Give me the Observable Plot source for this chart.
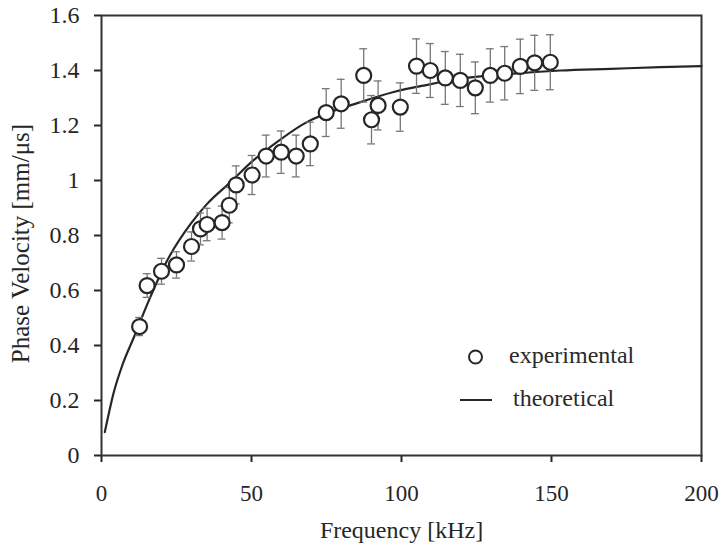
<!DOCTYPE html>
<html>
<head>
<meta charset="utf-8">
<script src="https://cdn.jsdelivr.net/npm/d3@7"></script>
<script src="https://cdn.jsdelivr.net/npm/@observablehq/plot@0.6"></script>
<style>
  html, body { margin: 0; padding: 0; background: #fff; }
  #wrap { position: relative; width: 721px; height: 554px; font-family: 'Liberation Serif', serif; }
  #legend { position: absolute; left: 0; top: 0; font-family: 'Liberation Serif', serif; font-size: 24px; color: #2a2a2a; }
  .lg { position: absolute; white-space: nowrap; line-height: 1; }
</style>
</head>
<body>
<div id="wrap"></div>
<script>
// Experimental points (frequency in kHz, phase velocity in mm/µs, error half-width)
const freq = [12.7, 15.2, 20, 25, 30, 33, 35.2, 40.2, 42.6, 44.9, 50.2, 54.9, 59.9, 64.9, 69.6, 74.9, 79.9, 87.4, 90, 92.2, 99.6, 105, 109.6, 114.6, 119.6, 124.6, 129.6, 134.4, 139.6, 144.4, 149.6];
const velocity = [0.469, 0.618, 0.670, 0.693, 0.760, 0.824, 0.840, 0.847, 0.910, 0.984, 1.020, 1.089, 1.103, 1.089, 1.133, 1.247, 1.279, 1.382, 1.221, 1.273, 1.267, 1.416, 1.400, 1.373, 1.364, 1.337, 1.382, 1.390, 1.415, 1.428, 1.430];
const errorBar = [0.033, 0.043, 0.047, 0.048, 0.053, 0.058, 0.059, 0.060, 0.064, 0.069, 0.071, 0.076, 0.077, 0.076, 0.079, 0.087, 0.089, 0.097, 0.088, 0.089, 0.088, 0.099, 0.098, 0.096, 0.095, 0.094, 0.097, 0.097, 0.099, 0.100, 0.100];

// Theoretical curve
const theoryFreq = [1.1, 4.1, 7, 10.8, 15.8, 21.9, 29.7, 35.2, 43, 50.8, 56.3, 67.4, 86.3, 97.4, 108.6, 119.7, 136.3, 153, 169.7, 186.3, 200];
const theoryVel = [0.085, 0.23, 0.33, 0.43, 0.564, 0.709, 0.842, 0.915, 0.994, 1.075, 1.122, 1.206, 1.285, 1.322, 1.348, 1.37, 1.388, 1.4, 1.406, 1.412, 1.416];

// Axis ticks and labels
const xTicks = [0, 50, 100, 150, 200];
const yTicks = [0, 0.2, 0.4, 0.6, 0.8, 1, 1.2, 1.4, 1.6];
const xLabel = "Frequency [kHz]";
const yLabel = "Phase Velocity [mm/μs]";
const legendLabels = ["experimental", "theoretical"];

const points = freq.map((f, i) => ({f, v: velocity[i], e: errorBar[i]}));
const theory = theoryFreq.map((f, i) => ({f, v: theoryVel[i]}));

const ink = "#262626";
const fontFamily = "'Liberation Serif', serif";

const chart = Plot.plot({
  width: 721,
  height: 554,
  marginLeft: 101,
  marginRight: 20,
  marginTop: 15,
  marginBottom: 99,
  x: {domain: [0, 200]},
  y: {domain: [0, 1.6]},
  style: {fontFamily, fontSize: "23px", color: ink, background: "white"},
  marks: [
    Plot.axisX({ticks: xTicks, tickSize: 7, tickPadding: 22, strokeWidth: 2, label: null, fontSize: 23}),
    Plot.axisY({ticks: yTicks, tickSize: 7, tickPadding: 15, strokeWidth: 2, label: null, fontSize: 24, tickFormat: d => String(+d.toFixed(1))}),
    Plot.frame({stroke: "#333", strokeWidth: 2}),
    Plot.line(theory, {x: "f", y: "v", curve: "monotone-x", stroke: ink, strokeWidth: 2.2}),
    Plot.ruleX(points, {x: "f", y1: d => d.v - d.e, y2: d => d.v + d.e, stroke: "#777", strokeWidth: 1.3}),
    Plot.ruleY(points, {y: d => d.v + d.e, x1: d => d.f - 1.3, x2: d => d.f + 1.3, stroke: "#777", strokeWidth: 1.3}),
    Plot.ruleY(points, {y: d => d.v - d.e, x1: d => d.f - 1.3, x2: d => d.f + 1.3, stroke: "#777", strokeWidth: 1.3}),
    Plot.dot(points, {x: "f", y: "v", r: 7.5, fill: "white", stroke: ink, strokeWidth: 2.2}),
    Plot.text([xLabel], {frameAnchor: "bottom", textAnchor: "middle", lineAnchor: "middle", dy: 75, fontSize: 24, fill: ink}),
    Plot.text([yLabel], {frameAnchor: "left", textAnchor: "middle", lineAnchor: "middle", dx: -81, dy: 8, rotate: -90, fontSize: 25, fill: ink})
  ]
});

const wrap = document.getElementById("wrap");
wrap.appendChild(chart);

// Legend overlay
const legend = document.createElement("div");
legend.id = "legend";
legend.innerHTML = `
  <svg style="position:absolute;left:0;top:0" width="721" height="554">
    <circle cx="475.5" cy="357" r="6.5" fill="white" stroke="${ink}" stroke-width="2"/>
    <line x1="460" x2="492" y1="400" y2="400" stroke="${ink}" stroke-width="2"/>
  </svg>
  <div class="lg" style="left:509px;top:343px">${legendLabels[0]}</div>
  <div class="lg" style="left:513px;top:386px">${legendLabels[1]}</div>
`;
wrap.appendChild(legend);
</script>
</body>
</html>
